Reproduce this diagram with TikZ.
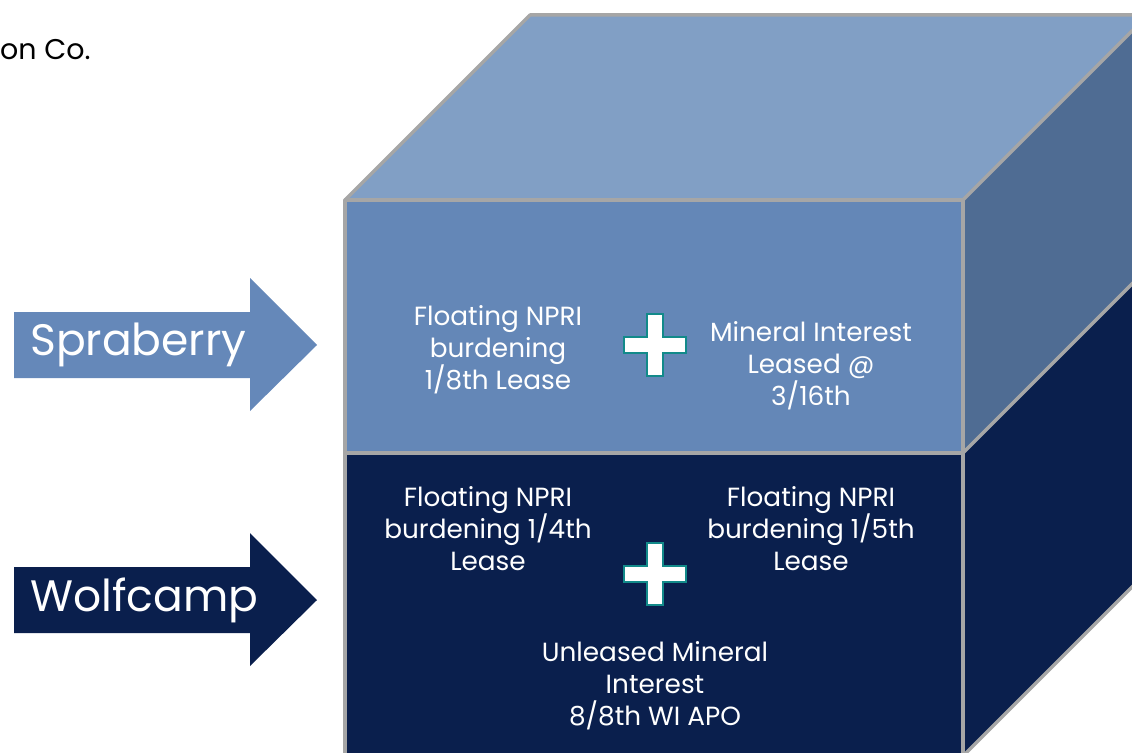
\documentclass[tikz,border=0pt]{standalone}
\usepackage{fontspec}
\setmainfont{Poppins}
\definecolor{topc}{HTML}{819FC5}
\definecolor{frontc}{HTML}{6487B7}
\definecolor{sidec}{HTML}{4F6C93}
\definecolor{navy}{HTML}{0A1F4D}
\definecolor{edgec}{HTML}{A6A6A6}
\definecolor{tealc}{HTML}{128A8A}
\definecolor{arrowc}{HTML}{6588B9}
\tikzset{
  face/.style={draw=edgec, line width=3.5pt, line join=round},
  lbl/.style={text=white, align=center, font=\fontsize{26.3}{32}\selectfont, inner sep=0pt},
  arrlbl/.style={text=white, font=\fontsize{44}{48}\selectfont, inner sep=0pt},
  plusbar/.style={fill=white, draw=tealc, line width=2pt}
}
\newcommand{\plussign}[2]{%
  \path[plusbar] (#1-31,#2-8) -- (#1-8,#2-8) -- (#1-8,#2-31) -- (#1+8,#2-31) -- (#1+8,#2-8) -- (#1+31,#2-8) -- (#1+31,#2+8) -- (#1+8,#2+8) -- (#1+8,#2+31) -- (#1-8,#2+31) -- (#1-8,#2+8) -- (#1-31,#2+8) -- cycle;}
\begin{document}
\begin{tikzpicture}[x=1pt,y=-1pt]
\useasboundingbox (0,0) rectangle (1132,752);
\clip (0,0) rectangle (1132,752);
% cube
\path[face, fill=topc] (345,200) -- (530,15) -- (1148,15) -- (963,200) -- cycle;
\path[face, fill=sidec] (963,200) -- (1148,15) -- (1148,268) -- (963,453) -- cycle;
\path[face, fill=navy] (963,453) -- (1148,268) -- (1148,571) -- (963,756) -- cycle;
\path[face, fill=frontc] (345,200) rectangle (963,453);
\path[face, fill=navy] (345,453) rectangle (963,756);
% arrows
\path[fill=arrowc] (14,312) -- (250,312) -- (250,278) -- (317,345) -- (250,411) -- (250,378) -- (14,378) -- cycle;
\path[fill=navy] (14,567) -- (250,567) -- (250,533) -- (317,600) -- (250,666) -- (250,633) -- (14,633) -- cycle;
\node[arrlbl, anchor=west] (spr) at (30,345) {Spraberry};
\node[arrlbl, anchor=west] (wolf) at (30,600) {Wolfcamp};
% plus signs
\plussign{655}{345}
\plussign{655}{574}
% texts
\node[lbl] (t1) at (498,350) {Floating NPRI\\burdening\\1/8th Lease};
\node[lbl] (t2) at (811,366) {Mineral Interest\\Leased @\\3/16th};
\node[lbl] (t3) at (488,529) {Floating NPRI\\burdening 1/4th\\Lease};
\node[lbl] (t4) at (811,529) {Floating NPRI\\burdening 1/5th\\Lease};
\node[lbl] (t5) at (655,686) {Unleased Mineral\\Interest\\8/8th WI APO};
\node[anchor=west, inner sep=0pt, font=\fontsize{28.5}{32}\selectfont] (co) at (0,50) {on Co.};
\end{tikzpicture}
\end{document}
